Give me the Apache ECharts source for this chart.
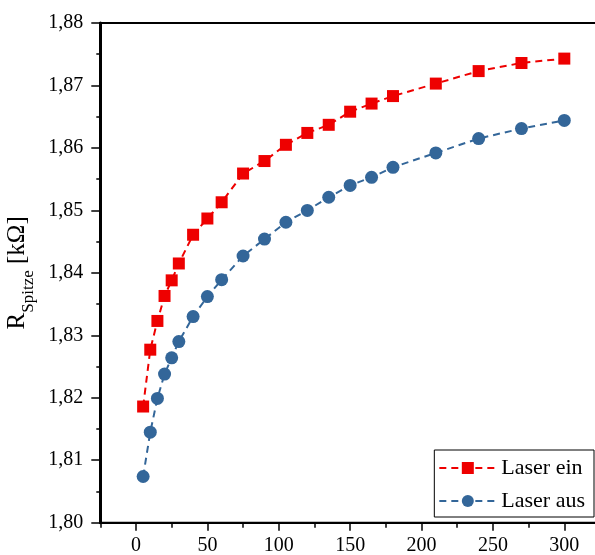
<!DOCTYPE html>
<html>
<head>
<meta charset="utf-8">
<script src="https://cdn.jsdelivr.net/npm/echarts@6/dist/echarts.min.js"></script>
<style>html,body{margin:0;padding:0;background:#fff;}#c{width:595px;height:555px;}</style>
</head>
<body>
<div id="c"></div>
<script>
var timesX = [5, 10, 15, 20, 25, 30, 40, 50, 60, 75, 90, 105, 120, 135, 150, 165, 180, 210, 240, 270, 300];
var laserEin = [1.8186, 1.8277, 1.8323, 1.8363, 1.8388, 1.8415, 1.8461, 1.8487, 1.8513, 1.8559, 1.8579, 1.8605, 1.8624, 1.8637, 1.8658, 1.8671, 1.8683, 1.8703, 1.8723, 1.8736, 1.8743];
var laserAus = [1.8074, 1.8145, 1.8199, 1.8238, 1.8264, 1.8290, 1.8330, 1.8362, 1.8389, 1.8427, 1.8454, 1.8481, 1.8500, 1.8521, 1.8540, 1.8553, 1.8569, 1.8592, 1.8615, 1.8631, 1.8644];
var seriesNames = ['Laser ein', 'Laser aus'];
var xMajorTicks = [0, 50, 100, 150, 200, 250, 300];
var xMinorTicks = [-25, 25, 75, 125, 175, 225, 275, 325];
var yTickLabels = ['1,80', '1,81', '1,82', '1,83', '1,84', '1,85', '1,86', '1,87', '1,88'];

function pairs(xs, ys) { return xs.map(function (x, i) { return [x, ys[i]]; }); }

var FONT = '"Liberation Serif", "DejaVu Serif", serif';
var chart = echarts.init(document.getElementById('c'), null, { renderer: 'canvas' });
chart.setOption({
  animation: false,
  backgroundColor: '#ffffff',
  textStyle: { fontFamily: FONT, color: '#000' },
  grid: { left: 100.3, right: -5, top: 23, bottom: 32.3, containLabel: false, outerBoundsMode: 'none',
          show: true, borderColor: '#000', borderWidth: 2, backgroundColor: 'transparent' },
  xAxis: [
    {
      type: 'value', position: 'bottom', min: -25, max: 325,
      axisLine: { show: true, onZero: false, lineStyle: { color: '#000', width: 2 } },
      axisTick: { show: true, customValues: xMajorTicks, length: 8, lineStyle: { color: '#000', width: 1.5 } },
      axisLabel: { show: true, customValues: xMajorTicks, margin: 13, fontSize: 20, fontFamily: FONT, color: '#000' },
      splitLine: { show: false }
    },
    {
      type: 'value', position: 'bottom', min: -25, max: 325,
      axisLine: { show: false, onZero: false },
      axisTick: { show: true, customValues: xMinorTicks, length: 5, lineStyle: { color: '#000', width: 1.5 } },
      axisLabel: { show: false },
      splitLine: { show: false }
    },
    {
      type: 'value', position: 'top', min: -25, max: 325,
      axisLine: { show: true, onZero: false, lineStyle: { color: '#000', width: 2 } },
      axisTick: { show: false }, axisLabel: { show: false }, splitLine: { show: false }
    }
  ],
  yAxis: {
    type: 'value', min: 1.80, max: 1.88, interval: 0.01, position: 'left',
    axisLine: { show: true, onZero: false, lineStyle: { color: '#000', width: 3 } },
    axisTick: { show: true, length: 9, lineStyle: { color: '#000', width: 1.5 } },
    minorTick: { show: true, splitNumber: 2, length: 4, lineStyle: { color: '#000', width: 1.5 } },
    axisLabel: {
      margin: 17, fontSize: 20, fontFamily: FONT, color: '#000',
      formatter: function (v) { return yTickLabels[Math.round((v - 1.80) * 100)]; }
    },
    splitLine: { show: false },
    name: '{m|R}{s|Spitze}{m| [kΩ]}',
    nameLocation: 'middle',
    nameRotate: 90,
    nameGap: 54,
    nameTextStyle: {
      fontFamily: FONT, color: '#000',
      rich: {
        m: { fontSize: 25, fontFamily: FONT, color: '#000', lineHeight: 40 },
        s: { fontSize: 17, fontFamily: FONT, color: '#000', lineHeight: 17, verticalAlign: 'bottom' }
      }
    }
  },
  legend: {
    orient: 'vertical', right: 1, top: 450,
    data: seriesNames,
    itemWidth: 57, itemHeight: 15, itemGap: 11,
    padding: [7, 9, 5, 4],
    backgroundColor: '#fff', borderColor: '#000', borderWidth: 1, borderRadius: 0,
    textStyle: { fontSize: 22, fontFamily: FONT, color: '#000', padding: [0, 0, 0, 0] }
  },
  series: [
    {
      name: seriesNames[0], type: 'line', xAxisIndex: 0,
      data: pairs(timesX, laserEin),
      symbol: 'rect', symbolSize: 12,
      itemStyle: { color: '#ee0000' },
      lineStyle: { color: '#ee0000', width: 2, type: [7, 5] },
      z: 3
    },
    {
      name: seriesNames[1], type: 'line', xAxisIndex: 0,
      data: pairs(timesX, laserAus),
      symbol: 'circle', symbolSize: 13,
      itemStyle: { color: '#336699' },
      lineStyle: { color: '#336699', width: 2, type: [7, 5] },
      z: 2
    }
  ]
});
</script>
</body>
</html>
